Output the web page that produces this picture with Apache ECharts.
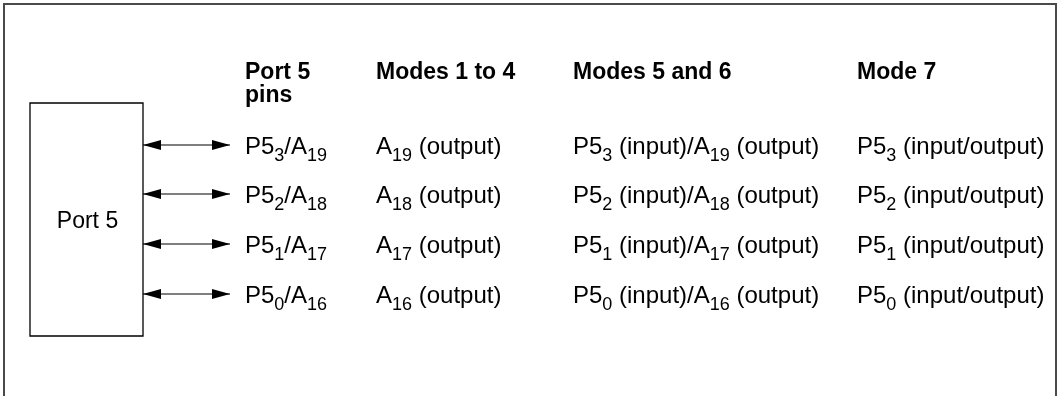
<!DOCTYPE html>
<html>
<head>
<meta charset="utf-8">
<script src="https://cdn.jsdelivr.net/npm/echarts@6/dist/echarts.min.js"></script>
<style>
html, body { margin: 0; padding: 0; background: #ffffff; }
#chart { width: 1064px; height: 396px; }
</style>
</head>
<body>
<div id="chart"></div>
<script>
// ---------------- content (text of the diagram) ----------------
const headers = ['Port 5\npins', 'Modes 1 to 4', 'Modes 5 and 6', 'Mode 7'];
const pinNames = ['P5{s|3}/A{s|19}', 'P5{s|2}/A{s|18}', 'P5{s|1}/A{s|17}', 'P5{s|0}/A{s|16}'];
const modes1to4 = ['A{s|19} (output)', 'A{s|18} (output)', 'A{s|17} (output)', 'A{s|16} (output)'];
const modes5and6 = [
  'P5{s|3} (input)/A{s|19} (output)',
  'P5{s|2} (input)/A{s|18} (output)',
  'P5{s|1} (input)/A{s|17} (output)',
  'P5{s|0} (input)/A{s|16} (output)'
];
const mode7 = [
  'P5{s|3} (input/output)',
  'P5{s|2} (input/output)',
  'P5{s|1} (input/output)',
  'P5{s|0} (input/output)'
];
const blockLabel = 'Port 5';

// ---------------- layout (positions in axis units) ----------------
const W = 1064, H = 396;
const COL_X = [245, 376, 573, 857];
const ROW_Y = [146, 195, 245, 295];
const TEXT_DY = 1;
const HEADER_TOP = 61;
const HEADER_LH = 23;
const BOX = { x0: 30, y0: 103, x1: 143, y1: 336 };
const ARROW = { x0: 143, x1: 230, head: 18, half: 5 };
const FRAME = { left: 4, top: 4, right: 1056, bottom: 410 };

const FONT = '"Liberation Sans", Arial, Helvetica, sans-serif';
const FS = 24;
const HFS = 23;
const SUB_FS = 18;
const RICH = {
  s: { fontSize: SUB_FS, fontFamily: FONT, fill: '#000', padding: [19, 0, 0, 0] }
};

const columns = [pinNames, modes1to4, modes5and6, mode7];

// cells: [colIndex, rowIndex]
const cellData = [];
columns.forEach((col, c) => col.forEach((t, r) => cellData.push([c, r])));

function textEl(pt, text, size, bold, vAlign, align) {
  return {
    type: 'text',
    x: pt[0],
    y: pt[1],
    style: {
      text: text,
      fill: '#000',
      fontSize: size,
      fontFamily: FONT,
      fontWeight: bold ? 'bold' : 'normal',
      lineHeight: bold ? HEADER_LH : undefined,
      align: align || 'left',
      verticalAlign: vAlign,
      rich: RICH
    }
  };
}

const option = {
  animation: false,
  backgroundColor: '#ffffff',
  grid: { left: 0, right: 0, top: 0, bottom: 0, containLabel: false },
  xAxis: { type: 'value', min: 0, max: W, show: false },
  yAxis: { type: 'value', min: 0, max: H, inverse: true, show: false },
  series: [
    {
      // outer frame + Port 5 block
      type: 'custom',
      data: [[0, 0]],
      silent: true,
      renderItem: function (params, api) {
        const a = api.coord([FRAME.left, FRAME.bottom]);
        const b = api.coord([FRAME.left, FRAME.top]);
        const c = api.coord([FRAME.right, FRAME.top]);
        const d = api.coord([FRAME.right, FRAME.bottom]);
        const p0 = api.coord([BOX.x0, BOX.y0]);
        const p1 = api.coord([BOX.x1, BOX.y1]);
        const mid = api.coord([(BOX.x0 + BOX.x1) / 2 + 1, (ROW_Y[1] + ROW_Y[2]) / 2 + 2]);
        return {
          type: 'group',
          children: [
            { type: 'polyline', shape: { points: [a, b, c, d] }, style: { stroke: '#4a4a4a', lineWidth: 2, fill: null } },
            { type: 'rect', shape: { x: p0[0], y: p0[1], width: p1[0] - p0[0], height: p1[1] - p0[1] },
              style: { stroke: '#000', lineWidth: 1.3, fill: '#fff' } },
            textEl(mid, blockLabel, 23, false, 'middle', 'center')
          ]
        };
      }
    },
    {
      // bidirectional arrows, one per pin row
      type: 'custom',
      data: pinNames.map((_, r) => [r]),
      silent: true,
      renderItem: function (params, api) {
        const r = api.value(0);
        const y = ROW_Y[r] - 1;
        const L = api.coord([ARROW.x0, y]);
        const R = api.coord([ARROW.x1, y]);
        const Lb1 = api.coord([ARROW.x0 + ARROW.head, y - ARROW.half]);
        const Lb2 = api.coord([ARROW.x0 + ARROW.head, y + ARROW.half]);
        const Rb1 = api.coord([ARROW.x1 - ARROW.head, y - ARROW.half]);
        const Rb2 = api.coord([ARROW.x1 - ARROW.head, y + ARROW.half]);
        return {
          type: 'group',
          children: [
            { type: 'line', shape: { x1: L[0], y1: L[1], x2: R[0], y2: R[1] }, style: { stroke: '#000', lineWidth: 1.2 } },
            { type: 'polygon', shape: { points: [L, Lb1, Lb2] }, style: { fill: '#000' } },
            { type: 'polygon', shape: { points: [R, Rb1, Rb2] }, style: { fill: '#000' } }
          ]
        };
      }
    },
    {
      // column headers
      type: 'custom',
      data: headers.map((_, c) => [c]),
      silent: true,
      renderItem: function (params, api) {
        const c = api.value(0);
        return textEl(api.coord([COL_X[c], HEADER_TOP]), headers[c], HFS, true, 'top');
      }
    },
    {
      // table cells
      type: 'custom',
      data: cellData,
      silent: true,
      renderItem: function (params, api) {
        const c = api.value(0), r = api.value(1);
        return textEl(api.coord([COL_X[c], ROW_Y[r] + TEXT_DY]), columns[c][r], FS, false, 'middle');
      }
    }
  ]
};

const chart = echarts.init(document.getElementById('chart'), null, { renderer: 'canvas' });
chart.setOption(option);
</script>
</body>
</html>
